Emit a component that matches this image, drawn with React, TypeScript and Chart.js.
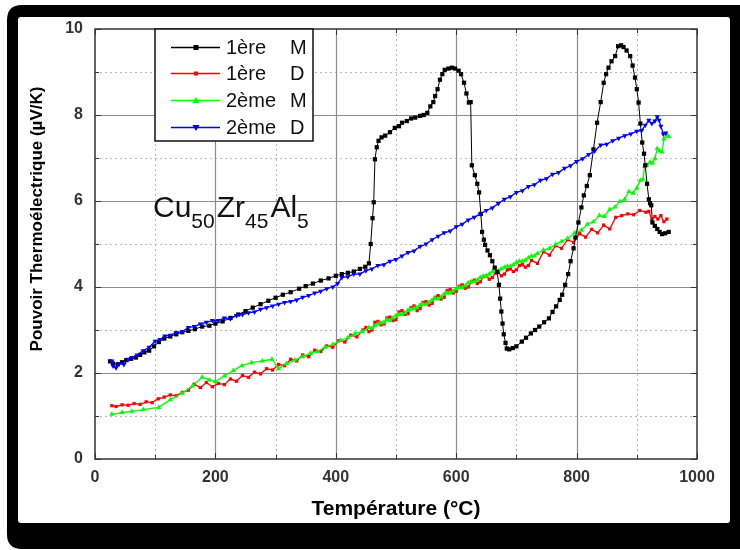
import React, { useEffect, useRef } from 'react';
import { Chart, registerables } from 'chart.js';

Chart.register(...registerables);

// ---------- data ----------
const xTickValues = [0, 200, 400, 600, 800, 1000];
const yTickValues = [0, 2, 4, 6, 8, 10];
const xMinorValues = [100, 300, 500, 700, 900];
const yMinorValues = [1, 3, 5, 7, 9];
const seriesNames = ['1ère   M', '1ère   D', '2ème M', '2ème D'];
const xTitle = 'Température (°C)';
const yTitle = 'Pouvoir Thermoélectrique (µV/K)';

// 1ère M (first heating) [T °C, S µV/K]
const firstM: [number, number][] = [
  [25, 2.27], [30, 2.22], [38, 2.2], [45, 2.25], [52, 2.3], [60, 2.33], [68, 2.36], [75, 2.42], [82, 2.48], [90, 2.52],
  [98, 2.62], [106, 2.72], [115, 2.8], [125, 2.85], [135, 2.9], [145, 2.95], [155, 2.98], [166, 3.02], [178, 3.08], [190, 3.1],
  [200, 3.15], [212, 3.2], [225, 3.28], [238, 3.36], [250, 3.44], [262, 3.52], [275, 3.6], [288, 3.68], [300, 3.75], [312, 3.82],
  [325, 3.88], [339, 3.96], [350, 4.02], [362, 4.08], [375, 4.15], [388, 4.2], [400, 4.26], [410, 4.3], [420, 4.33], [430, 4.36],
  [440, 4.42], [449, 4.47], [455, 4.55], [458, 5.0], [461, 5.6], [463, 5.97], [465, 6.97], [468, 7.25], [471, 7.4], [476, 7.48],
  [482, 7.52], [490, 7.6], [498, 7.7], [505, 7.74], [510, 7.82], [518, 7.86], [525, 7.92], [532, 7.94], [540, 7.98], [546, 8.0],
  [552, 8.05], [557, 8.2], [562, 8.3], [565, 8.44], [569, 8.6], [573, 8.82], [577, 8.95], [581, 9.05], [587, 9.08], [593, 9.1],
  [598, 9.08], [604, 9.03], [608, 8.95], [613, 8.75], [617, 8.5], [621, 8.29], [624, 8.3], [626, 6.83], [631, 6.6], [635, 6.4],
  [638, 6.2], [641, 5.7], [643, 5.28], [646, 5.1], [648, 4.98], [652, 4.85], [656, 4.74], [660, 4.6], [664, 4.45], [668, 4.35],
  [671, 4.05], [673, 3.73], [675, 3.43], [677, 3.15], [679, 2.9], [682, 2.7], [684, 2.57], [688, 2.55], [694, 2.58], [700, 2.62],
  [709, 2.73], [716, 2.82], [724, 2.92], [731, 3.0], [738, 3.08], [746, 3.18], [754, 3.27], [760, 3.42], [766, 3.55], [772, 3.7],
  [776, 3.82], [781, 4.05], [786, 4.3], [790, 4.6], [795, 4.9], [798, 5.15], [803, 5.5], [808, 5.85], [812, 6.13], [817, 6.35],
  [822, 6.6], [828, 7.2], [834, 7.82], [840, 8.3], [845, 8.75], [849, 8.95], [853, 9.1], [858, 9.25], [864, 9.37], [869, 9.6],
  [874, 9.62], [878, 9.58], [883, 9.5], [889, 9.37], [893, 9.15], [897, 8.87], [900, 8.6], [903, 8.29], [906, 7.8], [909, 7.36],
  [912, 7.1], [914, 6.83], [917, 6.4], [920, 6.04], [922, 5.95], [924, 5.9], [926, 5.5], [930, 5.42], [934, 5.35], [938, 5.28],
  [942, 5.23], [947, 5.25], [953, 5.28],
];

// 1ère D (first cooling)
const firstD: [number, number][] = [
  [28, 1.24], [35, 1.22], [45, 1.26], [55, 1.25], [65, 1.29], [75, 1.27], [85, 1.33], [95, 1.31], [105, 1.4], [115, 1.44],
  [125, 1.49], [135, 1.47], [145, 1.55], [155, 1.6], [165, 1.74], [175, 1.66], [185, 1.78], [195, 1.68], [205, 1.76], [215, 1.73],
  [225, 1.86], [235, 1.81], [245, 1.94], [255, 1.9], [265, 2.02], [275, 1.98], [285, 2.1], [295, 2.07], [305, 2.2], [315, 2.17],
  [325, 2.32], [335, 2.28], [345, 2.42], [355, 2.38], [365, 2.53], [375, 2.5], [385, 2.63], [395, 2.6], [405, 2.75], [415, 2.72],
  [425, 2.88], [435, 2.84], [445, 3.0], [450, 3.06], [455, 2.96], [460, 3.0], [465, 3.18], [470, 3.2], [475, 3.12], [480, 3.14],
  [485, 3.28], [490, 3.3], [495, 3.22], [500, 3.24], [505, 3.42], [510, 3.45], [515, 3.36], [520, 3.38], [525, 3.52], [530, 3.56],
  [535, 3.45], [540, 3.5], [545, 3.64], [550, 3.66], [555, 3.58], [560, 3.62], [565, 3.76], [570, 3.8], [575, 3.72], [580, 3.76],
  [585, 3.92], [590, 3.94], [595, 3.86], [600, 3.9], [605, 4.02], [610, 4.05], [615, 3.97], [620, 4.0], [625, 4.12], [630, 4.16],
  [635, 4.08], [640, 4.12], [645, 4.24], [650, 4.26], [655, 4.18], [660, 4.22], [665, 4.32], [670, 4.34], [675, 4.26], [680, 4.3],
  [685, 4.4], [690, 4.42], [695, 4.36], [700, 4.4], [705, 4.5], [710, 4.52], [715, 4.46], [720, 4.5], [725, 4.62], [735, 4.55],
  [745, 4.82], [755, 4.74], [765, 4.96], [775, 4.9], [785, 5.1], [795, 5.04], [805, 5.24], [815, 5.16], [825, 5.34], [835, 5.26],
  [845, 5.44], [855, 5.35], [865, 5.62], [875, 5.66], [885, 5.7], [895, 5.68], [905, 5.78], [915, 5.74], [920, 5.76], [925, 5.56],
  [930, 5.64], [935, 5.58], [940, 5.66], [945, 5.52], [950, 5.58],
];

// 2ème M (second heating)
const secondM: [number, number][] = [
  [28, 1.04], [45, 1.08], [61, 1.11], [80, 1.15], [106, 1.2], [125, 1.38], [145, 1.53], [162, 1.7], [178, 1.9], [190, 1.84],
  [200, 1.8], [215, 1.93], [230, 2.06], [244, 2.17], [260, 2.24], [278, 2.28], [294, 2.32], [305, 2.1], [318, 2.22], [332, 2.3],
  [345, 2.38], [358, 2.46], [370, 2.5], [382, 2.6], [395, 2.66], [408, 2.76], [420, 2.82], [432, 2.92], [444, 2.96], [455, 3.06],
  [460, 3.04], [465, 3.1], [470, 3.14], [475, 3.16], [480, 3.18], [485, 3.24], [490, 3.22], [495, 3.28], [500, 3.34], [505, 3.36],
  [510, 3.36], [515, 3.4], [520, 3.46], [525, 3.48], [530, 3.5], [535, 3.52], [540, 3.58], [545, 3.6], [550, 3.6], [555, 3.64],
  [560, 3.7], [565, 3.74], [570, 3.72], [575, 3.77], [580, 3.84], [585, 3.86], [590, 3.86], [595, 3.9], [600, 3.96], [605, 3.99],
  [610, 3.99], [615, 4.03], [620, 4.1], [625, 4.12], [630, 4.12], [635, 4.16], [640, 4.22], [645, 4.25], [650, 4.26], [655, 4.3],
  [660, 4.36], [665, 4.38], [670, 4.38], [675, 4.42], [680, 4.46], [685, 4.48], [690, 4.48], [695, 4.52], [700, 4.57], [705, 4.6],
  [710, 4.6], [715, 4.62], [720, 4.68], [725, 4.72], [730, 4.72], [735, 4.78], [745, 4.86], [755, 4.9], [765, 4.99], [775, 5.06],
  [785, 5.13], [797, 5.26], [808, 5.32], [818, 5.46], [828, 5.52], [838, 5.66], [846, 5.64], [855, 5.8], [864, 5.86], [872, 5.99],
  [880, 6.04], [887, 6.22], [894, 6.18], [900, 6.3], [906, 6.48], [910, 6.5], [913, 6.8], [917, 6.84], [922, 6.9], [926, 6.88],
  [930, 6.98], [934, 7.22], [938, 7.16], [942, 7.14], [945, 7.44], [950, 7.54], [953, 7.5],
];

// 2ème D (second cooling)
const secondD: [number, number][] = [
  [28, 2.28], [30, 2.16], [35, 2.12], [40, 2.22], [48, 2.2], [55, 2.32], [62, 2.36], [70, 2.42], [80, 2.52], [90, 2.6],
  [100, 2.74], [108, 2.78], [116, 2.86], [125, 2.88], [135, 2.94], [145, 2.96], [155, 3.06], [165, 3.08], [175, 3.14], [185, 3.18],
  [195, 3.22], [205, 3.22], [215, 3.28], [225, 3.26], [235, 3.34], [245, 3.36], [255, 3.4], [265, 3.42], [275, 3.48], [285, 3.52],
  [295, 3.56], [305, 3.6], [315, 3.64], [325, 3.66], [335, 3.7], [345, 3.76], [355, 3.8], [365, 3.86], [375, 3.9], [385, 3.96],
  [395, 4.0], [403, 4.08], [410, 4.22], [420, 4.24], [430, 4.3], [440, 4.3], [450, 4.38], [460, 4.42], [470, 4.5], [480, 4.52],
  [490, 4.6], [500, 4.64], [510, 4.72], [520, 4.8], [530, 4.84], [540, 4.94], [550, 5.0], [560, 5.1], [570, 5.18], [580, 5.26],
  [590, 5.3], [600, 5.4], [610, 5.46], [620, 5.56], [630, 5.62], [640, 5.7], [650, 5.78], [660, 5.84], [670, 5.94], [680, 6.04],
  [690, 6.1], [700, 6.2], [710, 6.24], [720, 6.34], [730, 6.38], [740, 6.48], [750, 6.52], [760, 6.62], [770, 6.66], [780, 6.76],
  [790, 6.82], [800, 6.92], [810, 6.98], [820, 7.08], [830, 7.16], [840, 7.3], [850, 7.32], [860, 7.4], [870, 7.46], [880, 7.52],
  [890, 7.56], [900, 7.62], [908, 7.64], [914, 7.76], [920, 7.88], [925, 7.8], [930, 7.86], [934, 7.96], [937, 7.88], [940, 7.74],
  [944, 7.56], [948, 7.58],
];

const seriesColors = ['#000000', '#ff0000', '#00ff00', '#0000ff'];

// ---------- helpers ----------
const toXY = (arr: [number, number][]) => arr.map(([x, y]) => ({ x, y }));

function drawMarker(ctx: CanvasRenderingContext2D, kind: number, x: number, y: number, color: string) {
  ctx.fillStyle = color;
  ctx.beginPath();
  if (kind === 0) {
    ctx.rect(x - 2.5, y - 2.5, 5, 5);
  } else if (kind === 1) {
    ctx.rect(x - 2, y - 2, 4, 4);
  } else if (kind === 2) {
    ctx.moveTo(x, y - 3.5);
    ctx.lineTo(x + 3.5, y + 2.5);
    ctx.lineTo(x - 3.5, y + 2.5);
    ctx.closePath();
  } else {
    ctx.moveTo(x, y + 3.5);
    ctx.lineTo(x + 3.5, y - 2.5);
    ctx.lineTo(x - 3.5, y - 2.5);
    ctx.closePath();
  }
  ctx.fill();
}

function roundRect(ctx: CanvasRenderingContext2D, x: number, y: number, w: number, h: number, r: number) {
  ctx.beginPath();
  ctx.moveTo(x + r, y);
  ctx.lineTo(x + w - r, y);
  ctx.quadraticCurveTo(x + w, y, x + w, y + r);
  ctx.lineTo(x + w, y + h - r);
  ctx.quadraticCurveTo(x + w, y + h, x + w - r, y + h);
  ctx.lineTo(x + r, y + h);
  ctx.quadraticCurveTo(x, y + h, x, y + h - r);
  ctx.lineTo(x, y + r);
  ctx.quadraticCurveTo(x, y, x + r, y);
  ctx.closePath();
}

const FONT = '"Liberation Sans", Arial, sans-serif';

const decorPlugin = {
  id: 'decor',
  beforeDraw(chart: any) {
    const ctx: CanvasRenderingContext2D = chart.ctx;
    ctx.save();
    ctx.fillStyle = '#ffffff';
    ctx.fillRect(0, 0, chart.width, chart.height);
    ctx.fillStyle = '#000000';
    roundRect(ctx, 7, 5, 760, 544, 15);
    ctx.fill();
    ctx.fillStyle = '#ffffff';
    roundRect(ctx, 18, 17, 712, 506, 3);
    ctx.fill();
    ctx.restore();
  },
  beforeDatasetsDraw(chart: any) {
    const ctx: CanvasRenderingContext2D = chart.ctx;
    const { left, right, top, bottom } = chart.chartArea;
    const xs = chart.scales.x;
    const ys = chart.scales.y;
    ctx.save();
    ctx.strokeStyle = '#b8b8b8';
    ctx.lineWidth = 1;
    ctx.setLineDash([2, 3]);
    for (const v of xMinorValues) {
      const px = Math.round(xs.getPixelForValue(v)) + 0.5;
      ctx.beginPath(); ctx.moveTo(px, top); ctx.lineTo(px, bottom); ctx.stroke();
    }
    for (const v of yMinorValues) {
      const py = Math.round(ys.getPixelForValue(v)) + 0.5;
      ctx.beginPath(); ctx.moveTo(left, py); ctx.lineTo(right, py); ctx.stroke();
    }
    ctx.setLineDash([]);
    ctx.strokeStyle = '#8c8c8c';
    ctx.lineWidth = 1.2;
    for (const v of xTickValues) {
      if (v === 0 || v === 1000) continue;
      const px = Math.round(xs.getPixelForValue(v)) + 0.5;
      ctx.beginPath(); ctx.moveTo(px, top); ctx.lineTo(px, bottom); ctx.stroke();
    }
    for (const v of yTickValues) {
      if (v === 0 || v === 10) continue;
      const py = Math.round(ys.getPixelForValue(v)) + 0.5;
      ctx.beginPath(); ctx.moveTo(left, py); ctx.lineTo(right, py); ctx.stroke();
    }
    ctx.restore();
  },
  afterDatasetsDraw(chart: any) {
    const ctx: CanvasRenderingContext2D = chart.ctx;
    const { left, right, top, bottom } = chart.chartArea;
    const xs = chart.scales.x;
    const ys = chart.scales.y;
    ctx.save();
    ctx.strokeStyle = '#333333';
    ctx.lineWidth = 1;
    const tickX = (v: number, len: number) => {
      const px = Math.round(xs.getPixelForValue(v)) + 0.5;
      ctx.beginPath(); ctx.moveTo(px, bottom); ctx.lineTo(px, bottom - len); ctx.stroke();
      ctx.beginPath(); ctx.moveTo(px, top); ctx.lineTo(px, top + len); ctx.stroke();
    };
    const tickY = (v: number, len: number) => {
      const py = Math.round(ys.getPixelForValue(v)) + 0.5;
      ctx.beginPath(); ctx.moveTo(left, py); ctx.lineTo(left + len, py); ctx.stroke();
      ctx.beginPath(); ctx.moveTo(right, py); ctx.lineTo(right - len, py); ctx.stroke();
    };
    xTickValues.forEach((v) => tickX(v, 6));
    xMinorValues.forEach((v) => tickX(v, 4));
    yTickValues.forEach((v) => tickY(v, 6));
    yMinorValues.forEach((v) => tickY(v, 4));
    ctx.strokeStyle = '#333333';
    ctx.lineWidth = 1.5;
    ctx.strokeRect(left, top, right - left, bottom - top);

    // legend
    ctx.fillStyle = '#ffffff';
    ctx.fillRect(155, 29, 158, 112);
    ctx.strokeStyle = '#111111';
    ctx.lineWidth = 1.5;
    ctx.strokeRect(155, 29, 158, 112);
    const rowY = [47, 73, 100, 127];
    ctx.font = `20px ${FONT}`;
    ctx.textBaseline = 'alphabetic';
    ctx.textAlign = 'left';
    seriesNames.forEach((name, i) => {
      const y = rowY[i];
      ctx.strokeStyle = seriesColors[i];
      ctx.lineWidth = 1.5;
      ctx.beginPath(); ctx.moveTo(171, y + 0.5); ctx.lineTo(220, y + 0.5); ctx.stroke();
      drawMarker(ctx, i, 196, y + 0.5, seriesColors[i]);
      const parts = name.split(/\s+/);
      ctx.fillStyle = '#111111';
      ctx.fillText(parts[0], 226, y + 7);
      ctx.fillText(parts[1], 290, y + 7);
    });

    // composition annotation Cu50Zr45Al5
    const pieces: [string, boolean][] = [['Cu', false], ['50', true], ['Zr', false], ['45', true], ['Al', false], ['5', true]];
    let x = 153;
    ctx.fillStyle = '#111111';
    for (const [txt, sub] of pieces) {
      ctx.font = sub ? `21px ${FONT}` : `30px ${FONT}`;
      ctx.fillText(txt, x, sub ? 228 : 217);
      x += ctx.measureText(txt).width + (sub ? 2 : 0);
    }

    // axis titles
    ctx.fillStyle = '#000000';
    ctx.font = `bold 21px ${FONT}`;
    ctx.textAlign = 'center';
    ctx.textBaseline = 'middle';
    ctx.fillText(xTitle, (left + right) / 2, 509);
    ctx.save();
    ctx.translate(37, 219);
    ctx.rotate(-Math.PI / 2);
    ctx.font = `bold 17px ${FONT}`;
    ctx.fillText(yTitle, 0, 0);
    ctx.restore();
    ctx.restore();
  },
};

export default function App() {
  const canvasRef = useRef<HTMLCanvasElement | null>(null);

  useEffect(() => {
    document.body.style.margin = '0';
    const canvas = canvasRef.current;
    if (!canvas) return;
    const series = [firstM, firstD, secondM, secondD];
    const styles = [
      { pointStyle: 'rect', pointRadius: 3, rotation: 0, order: 1 },
      { pointStyle: 'rect', pointRadius: 2.3, rotation: 0, order: 3 },
      { pointStyle: 'triangle', pointRadius: 3, rotation: 0, order: 2 },
      { pointStyle: 'triangle', pointRadius: 3, rotation: 180, order: 0 },
    ];
    const chart = new Chart(canvas, {
      type: 'scatter',
      data: {
        datasets: series.map((s, i) => ({
          label: seriesNames[i],
          data: toXY(s),
          showLine: true,
          borderColor: seriesColors[i],
          backgroundColor: seriesColors[i],
          borderWidth: i === 0 ? 1 : 1.3,
          pointStyle: styles[i].pointStyle as any,
          pointRadius: styles[i].pointRadius,
          pointRotation: styles[i].rotation,
          pointBorderWidth: 0,
          order: styles[i].order,
        })),
      },
      options: {
        responsive: false,
        animation: false,
        devicePixelRatio: 1,
        layout: { padding: { left: 18, right: 43, top: 29, bottom: 51 } },
        plugins: { legend: { display: false }, tooltip: { enabled: false } },
        scales: {
          x: {
            type: 'linear',
            min: 0,
            max: 1000,
            afterFit: (s: any) => { s.height = 40; },
            afterBuildTicks: (s: any) => { s.ticks = xTickValues.map((v) => ({ value: v })); },
            ticks: {
              color: '#333333',
              font: { family: FONT, size: 16, weight: 'bold' },
              padding: 9,
              maxRotation: 0,
              callback: (v: any) => String(v),
            },
            grid: { display: false, drawTicks: false },
            border: { display: false },
          },
          y: {
            type: 'linear',
            min: 0,
            max: 10,
            afterFit: (s: any) => { s.width = 77; },
            afterBuildTicks: (s: any) => { s.ticks = yTickValues.map((v) => ({ value: v })); },
            ticks: {
              color: '#333333',
              font: { family: FONT, size: 16, weight: 'bold' },
              padding: 12,
              callback: (v: any) => String(v),
            },
            grid: { display: false, drawTicks: false },
            border: { display: false },
          },
        },
      },
      plugins: [decorPlugin],
    });
    return () => chart.destroy();
  }, []);

  return (
    <div style={{ position: 'fixed', left: 0, top: 0, width: 740, height: 550 }}>
      <canvas ref={canvasRef} width={740} height={550} style={{ display: 'block', width: 740, height: 550 }} />
    </div>
  );
}
